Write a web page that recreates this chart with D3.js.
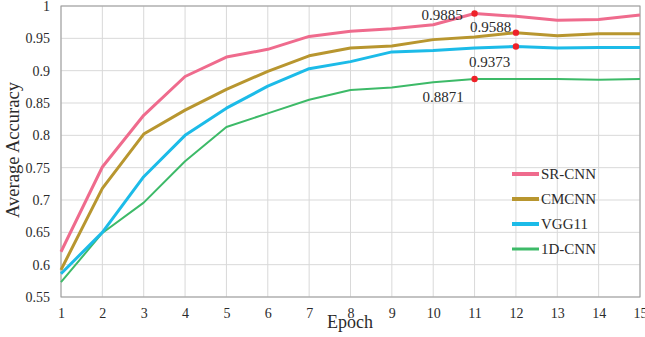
<!DOCTYPE html>
<html>
<head>
<meta charset="utf-8">
<script src="https://cdn.jsdelivr.net/npm/d3@7"></script>
<style>
  body { margin: 0; background: #fff; }
  text { font-family: "Liberation Serif", "Times New Roman", serif; fill: #2b2b2b; }
</style>
</head>
<body>
<div id="chart"></div>
<script>
// epochs and accuracy per model
var epochs = [1, 2, 3, 4, 5, 6, 7, 8, 9, 10, 11, 12, 13, 14, 15];
var srcnn  = [0.620, 0.751, 0.831, 0.891, 0.921, 0.933, 0.953, 0.961, 0.965, 0.971, 0.9885, 0.984, 0.978, 0.979, 0.986];
var cmcnn  = [0.592, 0.718, 0.802, 0.839, 0.871, 0.899, 0.923, 0.935, 0.938, 0.948, 0.952, 0.9588, 0.954, 0.957, 0.957];
var vgg11  = [0.586, 0.650, 0.736, 0.800, 0.842, 0.876, 0.903, 0.914, 0.929, 0.931, 0.935, 0.9373, 0.935, 0.936, 0.936];
var cnn1d  = [0.573, 0.649, 0.696, 0.760, 0.813, 0.834, 0.855, 0.870, 0.874, 0.882, 0.8871, 0.887, 0.887, 0.886, 0.887];
var seriesNames = ["SR-CNN", "CMCNN", "VGG11", "1D-CNN"];
var yTicks = [0.55, 0.6, 0.65, 0.7, 0.75, 0.8, 0.85, 0.9, 0.95, 1];
// highlighted maxima: [series index, epoch index]
var peaks = [[0, 10], [1, 11], [2, 11], [3, 10]];

var colors = ["#ef6b8d", "#b8962f", "#1cbbe8", "#3dba68"],
    widths = [3, 3, 3, 2];

// plot box (window.top is reserved, so no bare "top")
var W = 645, H = 337,
    pL = 61, pR = 640, pT = 6, pB = 297;

var svg = d3.select("#chart").append("svg")
    .attr("width", W)
    .attr("height", H);

var x = d3.scaleLinear().domain([1, 15]).range([pL, pR]);
var y = d3.scaleLinear().domain([0.55, 1]).range([pB, pT]);

// grid
svg.append("g").selectAll("line")
    .data(yTicks).enter().append("line")
    .attr("x1", pL).attr("x2", pR)
    .attr("y1", function(d) { return y(d); })
    .attr("y2", function(d) { return y(d); })
    .style("stroke", "#d9d9d9").style("stroke-width", 1);
svg.append("g").selectAll("line")
    .data(epochs).enter().append("line")
    .attr("y1", pT).attr("y2", pB)
    .attr("x1", function(d) { return x(d); })
    .attr("x2", function(d) { return x(d); })
    .style("stroke", "#d9d9d9").style("stroke-width", 1);

// frame
svg.append("rect")
    .attr("x", pL).attr("y", pT)
    .attr("width", pR - pL).attr("height", pB - pT)
    .style("fill", "none").style("stroke", "#9a9a9a").style("stroke-width", 1);

// axes
var xAxis = svg.append("g")
    .attr("transform", "translate(0," + pB + ")")
    .call(d3.axisBottom(x).tickValues(epochs).tickSize(0).tickPadding(11).tickFormat(d3.format("d")));
var yAxis = svg.append("g")
    .attr("transform", "translate(" + pL + ",0)")
    .call(d3.axisLeft(y).tickValues(yTicks).tickSize(0).tickPadding(11).tickFormat(function(d) { return String(+d.toFixed(2)); }));
[xAxis, yAxis].forEach(function(a) {
    a.select(".domain").remove();
    a.selectAll("text").style("font-family", "Liberation Serif, serif").style("font-size", "14px").style("fill", "#2b2b2b");
});

// lines
var data = [srcnn, cmcnn, vgg11, cnn1d];
var line = d3.line()
    .x(function(d, i) { return x(epochs[i]); })
    .y(function(d) { return y(d); });

// draw bottom series first
for (var s = data.length - 1; s >= 0; s--) {
    svg.append("path")
        .datum(data[s])
        .attr("d", line)
        .style("fill", "none")
        .style("stroke", colors[s])
        .style("stroke-width", widths[s])
        .style("stroke-linejoin", "round");
}

// peak dots + labels
var labelOffsets = [[-53, 7], [-46, -1], [-47, 20], [-52, 23]];
peaks.forEach(function(p, k) {
    var v = data[p[0]][p[1]];
    var px = x(epochs[p[1]]), py = y(v);
    svg.append("circle")
        .attr("cx", px).attr("cy", py).attr("r", 3.2)
        .style("fill", "#ee2229");
    svg.append("text")
        .attr("x", px + labelOffsets[k][0])
        .attr("y", py + labelOffsets[k][1])
        .style("font-size", "15px")
        .text(v.toFixed(4));
});

// legend
var legend = svg.append("g").selectAll(".legend")
    .data(seriesNames).enter().append("g")
    .attr("class", "legend")
    .attr("transform", function(d, i) { return "translate(512," + (174 + i * 25) + ")"; });
legend.append("line")
    .attr("x1", 0).attr("x2", 27)
    .style("stroke", function(d, i) { return colors[i]; })
    .style("stroke-width", function(d, i) { return widths[i] + 1; });
legend.append("text")
    .attr("x", 29).attr("dy", "0.35em")
    .style("font-size", "15px")
    .text(function(d) { return d; });

// axis titles
svg.append("text")
    .attr("x", 350).attr("y", 328)
    .attr("text-anchor", "middle")
    .style("font-size", "18px")
    .text("Epoch");
svg.append("text")
    .attr("transform", "translate(19,150) rotate(-90)")
    .attr("text-anchor", "middle")
    .style("font-size", "18.5px")
    .text("Average Accuracy");
</script>
</body>
</html>
